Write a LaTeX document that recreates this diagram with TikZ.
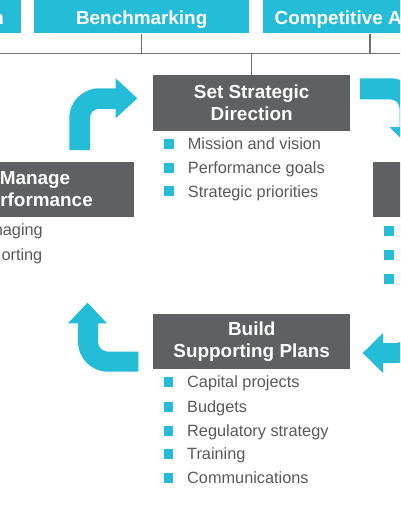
\documentclass[tikz,border=0pt]{standalone}
\usepackage{fontspec}
\setmainfont{Liberation Sans}
\definecolor{stepcyan}{HTML}{24BCD6}
\definecolor{stepgray}{HTML}{5F6064}
\definecolor{itemgray}{HTML}{595959}
\definecolor{linkgray}{HTML}{6F6F6F}
\tikzset{
  topbox/.style={fill=stepcyan, text=white, minimum width=215pt, minimum height=33.3pt, inner sep=0pt,
    font=\fontsize{18.9}{22}\selectfont\bfseries, text height=16.5pt, text depth=0pt},
  stepbox/.style={fill=stepgray, text=white, minimum width=197pt, minimum height=55pt, inner sep=0pt,
    align=center, font=\fontsize{18.9}{22}\selectfont\bfseries},
  item/.style={text=itemgray, anchor=west, inner sep=0pt, font=\fontsize{16.3}{20}\selectfont,
    text height=11.7pt, text depth=0pt},
  link/.style={draw=linkgray, line width=1.5pt},
  turn/.style={fill=stepcyan}
}
\begin{document}
\begin{tikzpicture}[x=1pt, y=-1pt]
    \useasboundingbox (0,0) rectangle (400,516);
    \clip (0,0) rectangle (400,516);

    % top row
    \node[topbox] (scan) at (-86.5,16.7) {};
    \node[topbox, fill=none, minimum width=0pt, anchor=east] (scanend) at (4,16.7) {n};
    \node[topbox] (bench) at (141.7,16.7) {Benchmarking};
    \node[topbox] (comp) at (370.2,16.7) {Competitive Analysis};

    % steps
    \node[stepbox] (setdir) at (251.7,103) {Set Strategic\\Direction};
    \node[stepbox] (manage) at (35,189.2) {Manage\\Performance};
    \node[stepbox] (next) at (471,189.2) {};
    \node[stepbox] (build) at (251.7,341.5) {Build\\Supporting Plans};

    % bus
    \coordinate (busw) at (-10,53.5);
    \coordinate (buse) at (410,53.5);
    \draw[link] (busw) -- (buse);
    \draw[link] (bench.south) -- (bench.south |- busw);
    \draw[link] (comp.south) -- (comp.south |- busw);
    \draw[link] (setdir.north) -- (setdir.north |- busw);

    % items
    \fill[stepcyan] (164,139.2) rectangle ++(9.8,9.8);
    \fill[stepcyan] (164,163.2) rectangle ++(9.8,9.8);
    \fill[stepcyan] (164,186.4) rectangle ++(9.8,9.8);
    \node[item] (sd1) at (187.7,144) {Mission and vision};
    \node[item] (sd2) at (187.7,168) {Performance goals};
    \node[item] (sd3) at (187.7,191.3) {Strategic priorities};

    \node[item, anchor=east] (mp1) at (43,230) {naging};
    \node[item, anchor=east] (mp2) at (42.5,255) {orting};

    \fill[stepcyan] (384.3,226) rectangle ++(9.8,9.8);
    \fill[stepcyan] (384.3,250.3) rectangle ++(9.8,9.8);
    \fill[stepcyan] (384.3,273.7) rectangle ++(9.8,9.8);

    \fill[stepcyan] (163.5,376.8) rectangle ++(9.8,9.8);
    \fill[stepcyan] (163.5,401.8) rectangle ++(9.8,9.8);
    \fill[stepcyan] (163.5,426.1) rectangle ++(9.8,9.8);
    \fill[stepcyan] (163.5,449.1) rectangle ++(9.8,9.8);
    \fill[stepcyan] (163.5,472.8) rectangle ++(9.8,9.8);
    \node[item] (bp1) at (187,381.7) {Capital projects};
    \node[item] (bp2) at (187,406.7) {Budgets};
    \node[item] (bp3) at (187,431) {Regulatory strategy};
    \node[item] (bp4) at (187,454) {Training};
    \node[item] (bp5) at (187,477.7) {Communications};

    % turning arrows
    \fill[turn] (69.3,150) -- (69.3,118) .. controls (69.3,101.4) and (82.7,88.3) .. (99.3,88.3)
        -- (115.7,88.3) -- (115.7,78.3) -- (137.3,98.3) -- (115.7,118.3) -- (115.7,108.8) -- (99,108.8)
        .. controls (94,108.8) and (90,112.8) .. (90,117.8) -- (90,150) -- cycle;
    \fill[turn] (360,78.3) -- (390.5,78.3) .. controls (407,78.3) and (420.5,91.7) .. (420.5,108.3)
        -- (420.5,127) -- (430.5,127) -- (410,148) -- (389.5,127) -- (399.5,127) -- (399.5,108.5)
        .. controls (399.5,103.5) and (395.5,99.5) .. (390.5,99.5) -- (360,99.5) -- cycle;
    \fill[turn] (362.7,353) -- (383,333) -- (383,343) -- (396,343)
        .. controls (401.5,343) and (406,338.5) .. (406,333) -- (406,280) -- (426,280) -- (426,333)
        .. controls (426,349.6) and (412.6,363) .. (396,363) -- (383,363) -- (383,373) -- cycle;
    \fill[turn] (138.3,351.7) -- (108,351.7) .. controls (102.5,351.7) and (98,347.2) .. (98,341.7)
        -- (98,323.3) -- (107,323.3) -- (87.5,302.7) -- (68,323.3) -- (78,323.3) -- (78,341.7)
        .. controls (78,358.3) and (91.4,371.7) .. (108,371.7) -- (138.3,371.7) -- cycle;
\end{tikzpicture}
\end{document}
